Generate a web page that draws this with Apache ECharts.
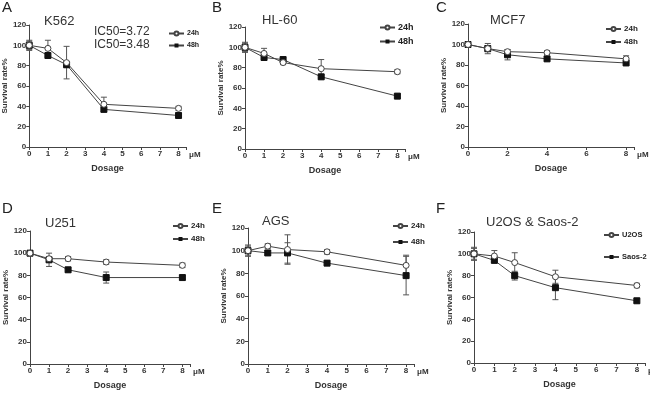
<!DOCTYPE html>
<html>
<head>
<meta charset="utf-8">
<style>
  html, body { margin: 0; padding: 0; background: #fff; }
  #chart { width: 650px; height: 399px; }
</style>
<script src="https://cdn.jsdelivr.net/npm/echarts@6/dist/echarts.min.js"></script>
</head>
<body>
<div id="chart"></div>
<script>
// dosages (µM)
var doses = [0, 1, 2, 4, 8]
var yTicks = [0, 20, 40, 60, 80, 100, 120]

// survival rate % and error (SD) per cell line
var k562_24 = [100, 97, 83, 42, 38]
var k562_24Err = [5, 8, 16, 7, 2]
var k562_48 = [100, 90, 81, 37, 31]
var k562_48Err = [4, 2, 3, 2, 2]

var hl60_24 = [100, 94, 85, 79, 76]
var hl60_24Err = [5, 5, 2, 9, 2]
var hl60_48 = [100, 90, 88, 71, 52]
var hl60_48Err = [4, 2, 2, 2, 2]

var mcf7_24 = [100, 96, 93, 92, 86]
var mcf7_24Err = [2, 5, 2, 2, 3]
var mcf7_48 = [100, 96, 90, 86, 82]
var mcf7_48Err = [2, 3, 5, 2, 2]

var u251_24 = [100, 95, 95, 92, 89]
var u251_24Err = [2, 2, 2, 2, 2]
var u251_48 = [100, 94, 85, 78, 78]
var u251_48Err = [2, 6, 2, 5, 2]

var ags_24 = [100, 104, 101, 99, 87]
var ags_24Err = [5, 2, 13, 2, 9]
var ags_48 = [100, 98, 98, 89, 78]
var ags_48Err = [4, 2, 9, 2, 17]

var u2os = [100, 98, 92, 79, 71]
var u2osErr = [5, 5, 9, 6, 2]
var saos2 = [100, 94, 80, 69, 57]
var saos2Err = [6, 2, 4, 11, 2]

var panels = [
  { letter: 'A', title: 'K562', names: ['24h', '48h'], a: k562_24, aErr: k562_24Err, b: k562_48, bErr: k562_48Err,
    grid: { left: 29, top: 25, width: 157, height: 122 }, step: 1, legend: { left: 163, top: 25, gap: 5, size: 7 } },
  { letter: 'B', title: 'HL-60', names: ['24h', '48h'], a: hl60_24, aErr: hl60_24Err, b: hl60_48, bErr: hl60_48Err,
    grid: { left: 245, top: 27, width: 160, height: 122 }, step: 1, legend: { left: 374, top: 18, gap: 5, size: 9 } },
  { letter: 'C', title: 'MCF7', names: ['24h', '48h'], a: mcf7_24, aErr: mcf7_24Err, b: mcf7_48, bErr: mcf7_48Err,
    grid: { left: 468, top: 24, width: 166, height: 123 }, step: 2, legend: { left: 600, top: 20, gap: 5, size: 8 } },
  { letter: 'D', title: 'U251', names: ['24h', '48h'], a: u251_24, aErr: u251_24Err, b: u251_48, bErr: u251_48Err,
    grid: { left: 30, top: 231, width: 160, height: 133 }, step: 1, legend: { left: 167, top: 217, gap: 5, size: 8 } },
  { letter: 'E', title: 'AGS', names: ['24h', '48h'], a: ags_24, aErr: ags_24Err, b: ags_48, bErr: ags_48Err,
    grid: { left: 248, top: 228, width: 166, height: 136 }, step: 1, legend: { left: 387, top: 217, gap: 8, size: 8 } },
  { letter: 'F', title: 'U2OS & Saos-2', names: ['U2OS', 'Saos-2'], a: u2os, aErr: u2osErr, b: saos2, bErr: saos2Err,
    grid: { left: 474, top: 232, width: 171, height: 131 }, step: 1, legend: { left: 598, top: 226, gap: 14, size: 7.5 } }
]

var lineColor = '#444'
var barColor = '#555'
var labelFont = 'Liberation Sans, Arial, sans-serif'

function pairs(ys) {
  return doses.map(function (d, i) { return [d, ys[i]] })
}

function errData(ys, errs) {
  return doses.map(function (d, i) { return [d, ys[i] - errs[i], ys[i] + errs[i]] })
}

function renderErr(params, api) {
  var x = api.value(0)
  var lo = api.coord([x, api.value(1)])
  var hi = api.coord([x, api.value(2)])
  var w = 3
  var style = { stroke: barColor, lineWidth: 1 }
  return {
    type: 'group',
    children: [
      { type: 'line', shape: { x1: lo[0], y1: lo[1], x2: hi[0], y2: hi[1] }, style: style },
      { type: 'line', shape: { x1: lo[0] - w, y1: lo[1], x2: lo[0] + w, y2: lo[1] }, style: style },
      { type: 'line', shape: { x1: hi[0] - w, y1: hi[1], x2: hi[0] + w, y2: hi[1] }, style: style }
    ]
  }
}

var grids = [], xAxes = [], yAxes = [], series = [], legends = [], texts = []

panels.forEach(function (p, i) {
  grids.push(p.grid)
  xAxes.push({
    type: 'value', gridIndex: i, min: 0, max: 8.4, interval: p.step,
    name: 'Dosage', nameLocation: 'middle', nameGap: 17,
    nameTextStyle: { fontFamily: labelFont, fontWeight: 'bold', fontSize: 9, color: '#333' },
    axisLine: { lineStyle: { color: '#444', width: 1 } },
    axisTick: { length: 3, lineStyle: { color: '#444' } },
    axisLabel: {
      fontFamily: labelFont, fontWeight: 'bold', fontSize: 8, color: '#333', margin: 3,
      formatter: function (v) { return v <= 8 ? v : '' }
    },
    splitLine: { show: false }
  })
  yAxes.push({
    type: 'value', gridIndex: i, min: 0, max: 120, interval: 20,
    name: 'Survival rate%', nameLocation: 'middle', nameGap: 19,
    nameTextStyle: { fontFamily: labelFont, fontWeight: 'bold', fontSize: 8, color: '#333' },
    axisLine: { show: true, lineStyle: { color: '#444', width: 1 } },
    axisTick: { show: true, length: 3, lineStyle: { color: '#444' } },
    axisLabel: { fontFamily: labelFont, fontWeight: 'bold', fontSize: 8, color: '#333', margin: 3 },
    splitLine: { show: false }
  })

  series.push({
    type: 'custom', xAxisIndex: i, yAxisIndex: i, renderItem: renderErr,
    data: errData(p.a, p.aErr), silent: true, z: 1
  })
  series.push({
    type: 'custom', xAxisIndex: i, yAxisIndex: i, renderItem: renderErr,
    data: errData(p.b, p.bErr), silent: true, z: 1
  })
  series.push({
    name: p.names[0], type: 'line', xAxisIndex: i, yAxisIndex: i, data: pairs(p.a),
    symbol: 'circle', symbolSize: 6, z: 3,
    itemStyle: { color: '#fff', borderColor: lineColor, borderWidth: 1 },
    lineStyle: { color: lineColor, width: 1 }
  })
  series.push({
    name: p.names[1], type: 'line', xAxisIndex: i, yAxisIndex: i, data: pairs(p.b),
    symbol: 'rect', symbolSize: 6, z: 2,
    itemStyle: { color: '#111', borderColor: '#111' },
    lineStyle: { color: lineColor, width: 1 }
  })

  legends.push({
    orient: 'vertical', left: p.legend.left, top: p.legend.top, itemGap: p.legend.gap,
    itemWidth: 15, itemHeight: 5, data: p.names, selectedMode: false,
    textStyle: { fontFamily: labelFont, fontWeight: 'bold', fontSize: p.legend.size, color: '#222', padding: [0, 0, 0, -2] }
  })

  // axis unit
  texts.push({
    type: 'text', left: p.grid.left + p.grid.width + 3, top: p.grid.top + p.grid.height + 4,
    style: { text: 'μM', fontFamily: labelFont, fontWeight: 'bold', fontSize: 8, fill: '#333' }
  })
})

var titlePos = [[44, 15], [262, 14], [490, 14], [45, 217], [262, 215], [486, 216]]
var letterPos = [[2, 0], [212, 0], [436, 0], [2, 201], [212, 201], [436, 201]]
panels.forEach(function (p, i) {
  texts.push({
    type: 'text', left: titlePos[i][0], top: titlePos[i][1],
    style: { text: p.title, fontFamily: labelFont, fontSize: 13, fill: '#333' }
  })
  texts.push({
    type: 'text', left: letterPos[i][0], top: letterPos[i][1],
    style: { text: p.letter, fontFamily: labelFont, fontSize: 15, fill: '#222' }
  })
})
texts.push({
  type: 'text', left: 94, top: 26,
  style: { text: 'IC50=3.72', fontFamily: labelFont, fontSize: 12, fill: '#333' }
})
texts.push({
  type: 'text', left: 94, top: 39,
  style: { text: 'IC50=3.48', fontFamily: labelFont, fontSize: 12, fill: '#333' }
})

var chart = echarts.init(document.getElementById('chart'), null, { renderer: 'canvas' })
chart.setOption({
  animation: false,
  backgroundColor: '#fff',
  grid: grids,
  xAxis: xAxes,
  yAxis: yAxes,
  legend: legends,
  series: series,
  graphic: texts
})
</script>
</body>
</html>
